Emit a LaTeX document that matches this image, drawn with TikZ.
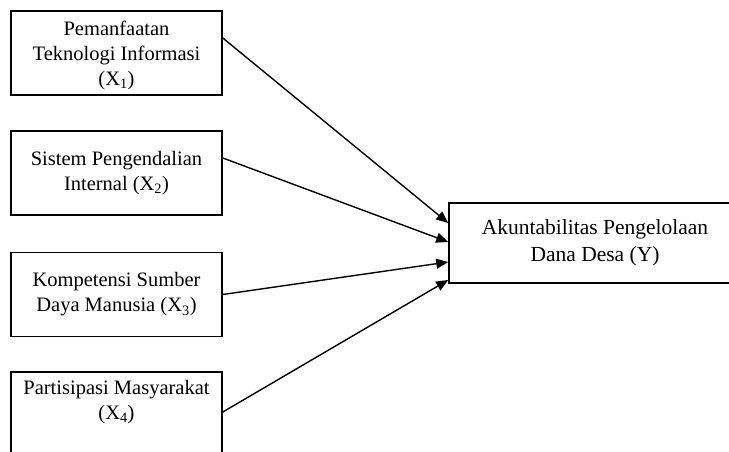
\documentclass[tikz,border=0pt]{standalone}
\usepackage{fontspec}
\setmainfont{Liberation Serif}
\usetikzlibrary{arrows.meta}

\begin{document}
\begin{tikzpicture}[x=1pt,y=-1pt]
\tikzset{varbox/.style={draw,line width=1.6pt,minimum width=211pt,minimum height=84pt,inner sep=0pt,align=center,
            font=\fontsize{20.5}{25}\selectfont},
         arr/.style={line width=1.4pt,-{Triangle[length=12pt,width=10pt]}}}
\clip (0,0) rectangle (729,452);
\node[varbox,text depth=0pt] (x1) at (116.5,53) {Pemanfaatan\\Teknologi Informasi\\(X\textsubscript{1})};
\node[varbox] (x2) at (116.5,173) {Sistem Pengendalian\\Internal (X\textsubscript{2})};
\node[varbox] (x3) at (116.5,294.5) {Kompetensi Sumber\\Daya Manusia (X\textsubscript{3})};
\node[varbox,text depth=29pt] (x4) at (116.5,414) {Partisipasi Masyarakat\\(X\textsubscript{4})};
\node[varbox,minimum width=292pt,minimum height=80pt,font=\fontsize{21.5}{27}\selectfont] (y) at (595,243) {Akuntabilitas Pengelolaan\\Dana Desa (Y)};
\draw[arr] ([yshift=15pt]x1.east) -- ([yshift=20pt]y.west);
\draw[arr] ([yshift=15pt]x2.east) -- ([yshift=1pt]y.west);
\draw[arr] (x3.east) -- ([yshift=-19pt]y.west);
\draw[arr] ([yshift=2pt]x4.east) -- ([yshift=-37pt]y.west);
\end{tikzpicture}
\end{document}
